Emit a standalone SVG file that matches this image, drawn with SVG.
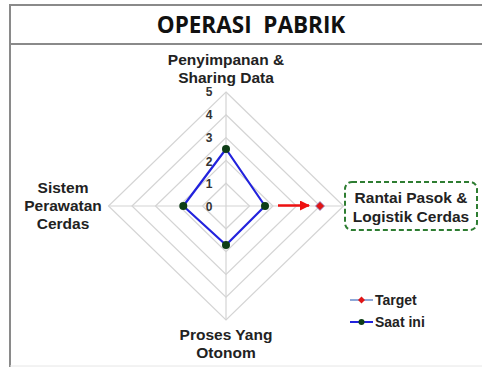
<svg xmlns="http://www.w3.org/2000/svg" width="482" height="367" viewBox="0 0 482 367">
<style>
.frame{stroke:#8a8a8a;stroke-width:2;fill:none}
.ring{fill:none;stroke:#d4d4d4;stroke-width:1.2}
.axis{stroke:#d4d4d4;stroke-width:1.2}
.lbl{font-family:"Liberation Sans",Arial,sans-serif;font-weight:bold;font-size:15.5px;fill:#222;text-anchor:middle}
.tick{font-family:"Liberation Sans",Arial,sans-serif;font-weight:bold;font-size:12px;fill:#333;text-anchor:middle}
.leg{font-family:"Liberation Sans",Arial,sans-serif;font-weight:bold;font-size:14px;fill:#222}
.cur{fill:none;stroke:#2222dd;stroke-width:2.2;stroke-linejoin:round}
.dot{fill:#0d3d16}
</style>
<defs>
<marker id="ah" markerWidth="10" markerHeight="10" refX="9" refY="5" orient="auto" markerUnits="userSpaceOnUse">
<path d="M0,0 L10,5 L0,10 z" fill="#ee1111"/>
</marker>
</defs>
<rect width="482" height="367" fill="#fff"/>
<g id="frame">
<line class="frame" x1="10" y1="5" x2="482" y2="5"/>
<line class="frame" x1="10" y1="44" x2="482" y2="44"/>
<line class="frame" x1="10" y1="4" x2="10" y2="367"/>
<line x1="10" y1="366" x2="482" y2="366" stroke="#e6e6e6" stroke-width="1"/>
<text x="251" y="33" font-family="'Open Sans','Noto Sans',sans-serif" font-weight="bold" font-size="22.5" fill="#111" text-anchor="middle" xml:space="preserve">OPERASI  PABRIK</text>
</g>
<g id="grid">
<polygon class="ring" points="226,183.2 249.5,206 226,228.8 202.5,206"/>
<polygon class="ring" points="226,160.4 273,206 226,251.6 179,206"/>
<polygon class="ring" points="226,137.6 296.5,206 226,274.4 155.5,206"/>
<polygon class="ring" points="226,114.8 320,206 226,297.2 132,206"/>
<polygon class="ring" points="226,92 343.5,206 226,320 108.5,206"/>
<line class="axis" x1="226" y1="92" x2="226" y2="320"/>
<line class="axis" x1="108.5" y1="206" x2="343.5" y2="206"/>
<text class="tick" x="209" y="96">5</text>
<text class="tick" x="209" y="119">4</text>
<text class="tick" x="209" y="142">3</text>
<text class="tick" x="209" y="166">2</text>
<text class="tick" x="209" y="188">1</text>
<text class="tick" x="209" y="211">0</text>
</g>
<g id="series-saat-ini">
<polygon class="cur" points="226,149 265,206 226,245 183.3,206"/>
<circle class="dot" cx="226" cy="149" r="4"/>
<circle class="dot" cx="265" cy="206" r="4"/>
<circle class="dot" cx="226" cy="245" r="4"/>
<circle class="dot" cx="183.3" cy="206" r="4"/>
</g>
<g id="series-target">
<polygon points="320,201.5 324.5,206 320,210.5 315.5,206" fill="#e01515" stroke="#8888cc" stroke-width="0.8"/>
</g>
<g id="connectors">
<line x1="278" y1="205.5" x2="309" y2="205.5" stroke="#ee1111" stroke-width="2.5" marker-end="url(#ah)"/>
</g>
<g id="node-top">
<text class="lbl" x="226" y="65">Penyimpanan &amp;</text>
<text class="lbl" x="226" y="83">Sharing Data</text>
</g>
<g id="node-left">
<text class="lbl" x="63" y="193">Sistem</text>
<text class="lbl" x="63" y="211">Perawatan</text>
<text class="lbl" x="63" y="229">Cerdas</text>
</g>
<g id="node-bottom">
<text class="lbl" x="226" y="340">Proses Yang</text>
<text class="lbl" x="226" y="358">Otonom</text>
</g>
<g id="node-right">
<rect x="345" y="182" width="132" height="48" rx="7" fill="#fff" stroke="#2e7d32" stroke-width="2" stroke-dasharray="5,3"/>
<text class="lbl" x="411" y="203">Rantai Pasok &amp;</text>
<text class="lbl" x="411" y="222">Logistik Cerdas</text>
</g>
<g id="legend">
<line x1="350" y1="300" x2="373" y2="300" stroke="#8fa8d8" stroke-width="2"/>
<polygon points="361.5,296.5 365,300 361.5,303.5 358,300" fill="#e01515"/>
<text class="leg" x="375" y="305">Target</text>
<line x1="350" y1="322" x2="373" y2="322" stroke="#2222dd" stroke-width="2"/>
<circle class="dot" cx="361.5" cy="322" r="3"/>
<text class="leg" x="375" y="327">Saat ini</text>
</g>
</svg>
